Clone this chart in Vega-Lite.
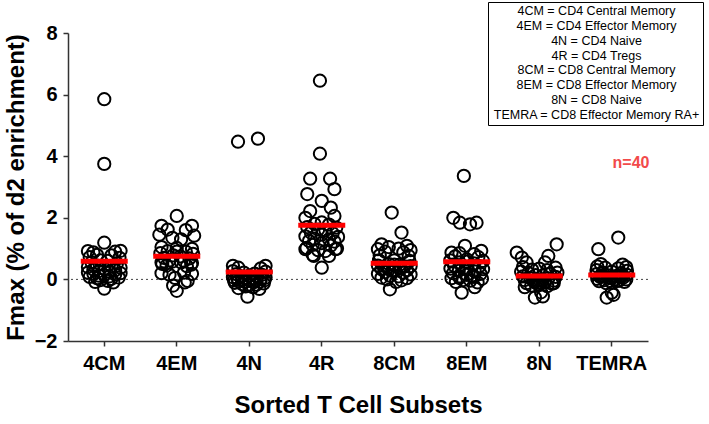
{
"$schema": "https://vega.github.io/schema/vega-lite/v6.json",
"width": 580, "height": 308,
"autosize": {"type": "none"},
"padding": {"left": 68, "top": 33, "right": 61, "bottom": 83},
"background": "white",
"config": {
  "view": {"stroke": null},
  "font": "Liberation Sans",
  "axis": {"domainColor": "#333", "domainWidth": 1.5, "tickColor": "#333", "tickWidth": 1.5, "tickSize": 5, "labelFont": "Liberation Sans", "labelFontWeight": "bold", "labelColor": "black", "titleFont": "Liberation Sans", "titleFontWeight": "bold", "titleColor": "black", "grid": false},
  "legend": {"strokeColor": "black", "padding": 3, "labelFont": "Liberation Sans", "labelFontSize": 12.5, "labelColor": "black", "symbolSize": 0, "symbolStrokeWidth": 0, "symbolOpacity": 0, "rowPadding": 1.8, "labelLimit": 400}
},
"data": {"values": [
{"s":"4CM","v":5.85,"j":0},{"s":"4CM","v":3.75,"j":0},{"s":"4CM","v":1.19,"j":0},
{"s":"4CM","v":0.92,"j":-0.45},{"s":"4CM","v":0.88,"j":-0.3},{"s":"4CM","v":0.9,"j":0.3},{"s":"4CM","v":0.93,"j":0.45},
{"s":"4CM","v":0.8,"j":-0.2},{"s":"4CM","v":0.78,"j":0.2},{"s":"4CM","v":0.72,"j":-0.4},{"s":"4CM","v":0.7,"j":0.42},
{"s":"4CM","v":0.62,"j":-0.1},{"s":"4CM","v":0.6,"j":0.1},{"s":"4CM","v":0.55,"j":-0.35},{"s":"4CM","v":0.52,"j":0.35},
{"s":"4CM","v":0.45,"j":-0.2},{"s":"4CM","v":0.43,"j":0.2},{"s":"4CM","v":0.4,"j":-0.45},{"s":"4CM","v":0.38,"j":0.45},
{"s":"4CM","v":0.35,"j":0},{"s":"4CM","v":0.32,"j":-0.3},{"s":"4CM","v":0.3,"j":0.3},
{"s":"4CM","v":0.27,"j":-0.15},{"s":"4CM","v":0.25,"j":0.15},{"s":"4CM","v":0.22,"j":-0.45},{"s":"4CM","v":0.2,"j":0.45},
{"s":"4CM","v":0.18,"j":-0.3},{"s":"4CM","v":0.16,"j":0.3},{"s":"4CM","v":0.14,"j":0},{"s":"4CM","v":0.12,"j":-0.15},{"s":"4CM","v":0.1,"j":0.15},
{"s":"4CM","v":0.08,"j":-0.4},{"s":"4CM","v":0.06,"j":0.4},{"s":"4CM","v":0.04,"j":-0.2},{"s":"4CM","v":0.02,"j":0.2},
{"s":"4CM","v":-0.02,"j":-0.1},{"s":"4CM","v":-0.05,"j":0.1},{"s":"4CM","v":-0.08,"j":-0.25},{"s":"4CM","v":-0.1,"j":0.25},
{"s":"4CM","v":-0.3,"j":0},
{"s":"4EM","v":2.06,"j":0},
{"s":"4EM","v":1.74,"j":-0.42},{"s":"4EM","v":1.74,"j":0.42},{"s":"4EM","v":1.62,"j":-0.25},{"s":"4EM","v":1.6,"j":0.25},
{"s":"4EM","v":1.45,"j":-0.48},{"s":"4EM","v":1.42,"j":0.48},{"s":"4EM","v":1.35,"j":-0.12},{"s":"4EM","v":1.3,"j":0.12},
{"s":"4EM","v":1.05,"j":-0.42},{"s":"4EM","v":1.02,"j":0},{"s":"4EM","v":0.99,"j":0.42},
{"s":"4EM","v":0.92,"j":-0.25},{"s":"4EM","v":0.9,"j":0.25},{"s":"4EM","v":0.85,"j":-0.45},{"s":"4EM","v":0.83,"j":0.45},
{"s":"4EM","v":0.78,"j":-0.1},{"s":"4EM","v":0.75,"j":0.1},{"s":"4EM","v":0.7,"j":-0.35},{"s":"4EM","v":0.68,"j":0.35},
{"s":"4EM","v":0.62,"j":-0.2},{"s":"4EM","v":0.6,"j":0.2},{"s":"4EM","v":0.55,"j":-0.42},{"s":"4EM","v":0.53,"j":0.42},
{"s":"4EM","v":0.9,"j":0},{"s":"4EM","v":0.45,"j":-0.28},{"s":"4EM","v":0.43,"j":0.28},
{"s":"4EM","v":0.58,"j":-0.12},{"s":"4EM","v":0.55,"j":0.12},{"s":"4EM","v":0.5,"j":-0.4},{"s":"4EM","v":0.48,"j":0.4},
{"s":"4EM","v":0.2,"j":-0.42},{"s":"4EM","v":0.18,"j":0.42},{"s":"4EM","v":0.15,"j":-0.2},{"s":"4EM","v":0.22,"j":0.2},
{"s":"4EM","v":0.05,"j":-0.05},{"s":"4EM","v":-0.05,"j":0.3},{"s":"4EM","v":-0.1,"j":0.22},{"s":"4EM","v":-0.2,"j":-0.1},
{"s":"4EM","v":-0.37,"j":0},
{"s":"4N","v":4.57,"j":0.24},{"s":"4N","v":4.47,"j":-0.31},
{"s":"4N","v":0.44,"j":-0.45},{"s":"4N","v":0.44,"j":0.45},{"s":"4N","v":0.38,"j":-0.3},{"s":"4N","v":0.36,"j":0.32},
{"s":"4N","v":0.27,"j":-0.45},{"s":"4N","v":0.25,"j":0.45},{"s":"4N","v":0.22,"j":-0.15},{"s":"4N","v":0.19,"j":0.15},
{"s":"4N","v":0.17,"j":-0.35},{"s":"4N","v":0.15,"j":0.35},{"s":"4N","v":0.12,"j":0},{"s":"4N","v":0.1,"j":-0.22},{"s":"4N","v":0.09,"j":0.22},
{"s":"4N","v":0.07,"j":-0.45},{"s":"4N","v":0.06,"j":0.45},{"s":"4N","v":0.05,"j":-0.1},{"s":"4N","v":0.04,"j":0.1},{"s":"4N","v":0.02,"j":-0.32},{"s":"4N","v":0.01,"j":0.32},
{"s":"4N","v":-0.01,"j":-0.2},{"s":"4N","v":-0.02,"j":0.2},{"s":"4N","v":-0.03,"j":-0.42},{"s":"4N","v":-0.03,"j":0.42},{"s":"4N","v":-0.04,"j":0},
{"s":"4N","v":-0.06,"j":-0.3},{"s":"4N","v":-0.07,"j":0.3},{"s":"4N","v":-0.08,"j":-0.12},{"s":"4N","v":-0.09,"j":0.12},
{"s":"4N","v":-0.11,"j":-0.4},{"s":"4N","v":-0.13,"j":0.4},{"s":"4N","v":-0.15,"j":-0.2},{"s":"4N","v":-0.17,"j":0.2},
{"s":"4N","v":-0.19,"j":0},{"s":"4N","v":-0.23,"j":-0.1},{"s":"4N","v":-0.25,"j":0.1},{"s":"4N","v":-0.28,"j":-0.3},{"s":"4N","v":-0.31,"j":0.28},
{"s":"4N","v":-0.56,"j":-0.05},
{"s":"4R","v":6.45,"j":-0.05},{"s":"4R","v":4.08,"j":-0.05},{"s":"4R","v":3.27,"j":-0.32},{"s":"4R","v":3.27,"j":0.23},
{"s":"4R","v":2.93,"j":0.35},{"s":"4R","v":2.77,"j":-0.4},{"s":"4R","v":2.55,"j":0},
{"s":"4R","v":2.33,"j":0.25},{"s":"4R","v":2.22,"j":-0.32},{"s":"4R","v":2.06,"j":0.35},{"s":"4R","v":2.0,"j":-0.45},
{"s":"4R","v":1.85,"j":0},{"s":"4R","v":1.8,"j":-0.2},{"s":"4R","v":1.78,"j":0.2},
{"s":"4R","v":1.7,"j":-0.4},{"s":"4R","v":1.68,"j":0.4},{"s":"4R","v":1.62,"j":-0.1},{"s":"4R","v":1.6,"j":0.1},
{"s":"4R","v":1.52,"j":-0.3},{"s":"4R","v":1.5,"j":0.3},{"s":"4R","v":1.45,"j":0},{"s":"4R","v":1.4,"j":-0.45},{"s":"4R","v":1.38,"j":0.45},
{"s":"4R","v":1.32,"j":-0.2},{"s":"4R","v":1.3,"j":0.2},{"s":"4R","v":1.25,"j":-0.35},{"s":"4R","v":1.23,"j":0.35},
{"s":"4R","v":1.18,"j":0},{"s":"4R","v":1.12,"j":-0.25},{"s":"4R","v":1.1,"j":0.25},
{"s":"4R","v":1.02,"j":-0.42},{"s":"4R","v":1.0,"j":0.42},{"s":"4R","v":0.95,"j":-0.1},{"s":"4R","v":0.92,"j":0.1},
{"s":"4R","v":0.98,"j":-0.45},{"s":"4R","v":0.98,"j":0.38},{"s":"4R","v":0.8,"j":-0.25},{"s":"4R","v":0.76,"j":-0.22},{"s":"4R","v":0.76,"j":0.2},
{"s":"4R","v":0.38,"j":0},
{"s":"8CM","v":2.17,"j":-0.07},{"s":"8CM","v":1.52,"j":0.2},
{"s":"8CM","v":1.14,"j":-0.35},{"s":"8CM","v":1.09,"j":0.35},{"s":"8CM","v":1.05,"j":-0.15},{"s":"8CM","v":1.0,"j":0.12},{"s":"8CM","v":0.98,"j":-0.45},{"s":"8CM","v":0.95,"j":0.45},
{"s":"8CM","v":0.9,"j":-0.25},{"s":"8CM","v":0.88,"j":0.25},{"s":"8CM","v":0.62,"j":0},{"s":"8CM","v":0.78,"j":-0.4},{"s":"8CM","v":0.76,"j":0.4},
{"s":"8CM","v":0.5,"j":-0.15},{"s":"8CM","v":0.48,"j":0.15},{"s":"8CM","v":0.62,"j":-0.42},{"s":"8CM","v":0.6,"j":0.42},
{"s":"8CM","v":0.35,"j":-0.28},{"s":"8CM","v":0.42,"j":0.28},{"s":"8CM","v":0.48,"j":0},{"s":"8CM","v":0.45,"j":-0.45},{"s":"8CM","v":0.43,"j":0.45},
{"s":"8CM","v":0.4,"j":-0.15},{"s":"8CM","v":0.38,"j":0.15},{"s":"8CM","v":0.33,"j":-0.35},{"s":"8CM","v":0.3,"j":0.35},
{"s":"8CM","v":0.27,"j":0},{"s":"8CM","v":0.24,"j":-0.25},{"s":"8CM","v":0.22,"j":0.25},{"s":"8CM","v":0.18,"j":-0.45},{"s":"8CM","v":0.16,"j":0.45},
{"s":"8CM","v":0.12,"j":-0.12},{"s":"8CM","v":0.1,"j":0.12},{"s":"8CM","v":0.06,"j":-0.35},{"s":"8CM","v":0.04,"j":0.35},
{"s":"8CM","v":0.0,"j":-0.2},{"s":"8CM","v":-0.03,"j":0.2},{"s":"8CM","v":-0.08,"j":0.05},{"s":"8CM","v":-0.32,"j":-0.12},
{"s":"8CM","v":0.28,"j":-0.05},
{"s":"8EM","v":3.36,"j":-0.08},{"s":"8EM","v":2.0,"j":-0.37},{"s":"8EM","v":1.84,"j":-0.19},{"s":"8EM","v":1.79,"j":0.09},{"s":"8EM","v":1.84,"j":0.27},
{"s":"8EM","v":1.09,"j":-0.05},{"s":"8EM","v":0.93,"j":0.4},{"s":"8EM","v":0.87,"j":-0.42},{"s":"8EM","v":0.85,"j":-0.2},{"s":"8EM","v":0.82,"j":0.2},
{"s":"8EM","v":0.75,"j":-0.32},{"s":"8EM","v":0.72,"j":0.32},{"s":"8EM","v":0.65,"j":0},{"s":"8EM","v":0.62,"j":-0.45},{"s":"8EM","v":0.6,"j":0.45},
{"s":"8EM","v":0.55,"j":-0.2},{"s":"8EM","v":0.52,"j":0.2},{"s":"8EM","v":0.45,"j":-0.35},{"s":"8EM","v":0.43,"j":0.35},
{"s":"8EM","v":0.58,"j":0},{"s":"8EM","v":0.35,"j":-0.45},{"s":"8EM","v":0.33,"j":0.45},{"s":"8EM","v":0.28,"j":-0.22},{"s":"8EM","v":0.26,"j":0.22},
{"s":"8EM","v":0.2,"j":-0.38},{"s":"8EM","v":0.18,"j":0.38},{"s":"8EM","v":0.32,"j":0},{"s":"8EM","v":0.1,"j":-0.2},{"s":"8EM","v":0.08,"j":0.2},
{"s":"8EM","v":0.04,"j":-0.42},{"s":"8EM","v":0.02,"j":0.42},{"s":"8EM","v":-0.02,"j":-0.1},{"s":"8EM","v":-0.04,"j":0.1},
{"s":"8EM","v":-0.08,"j":-0.3},{"s":"8EM","v":-0.1,"j":0.3},{"s":"8EM","v":0.15,"j":0},{"s":"8EM","v":0.1,"j":0.15},{"s":"8EM","v":0.05,"j":-0.2},{"s":"8EM","v":-0.25,"j":0.22},
{"s":"8EM","v":-0.43,"j":-0.14},
{"s":"8N","v":1.14,"j":0.48},{"s":"8N","v":0.87,"j":-0.62},{"s":"8N","v":0.76,"j":0.25},{"s":"8N","v":0.71,"j":-0.48},{"s":"8N","v":0.55,"j":-0.35},{"s":"8N","v":0.55,"j":0.16},
{"s":"8N","v":0.4,"j":-0.45},{"s":"8N","v":0.38,"j":0.45},{"s":"8N","v":0.35,"j":0},{"s":"8N","v":0.32,"j":-0.2},{"s":"8N","v":0.3,"j":0.22},
{"s":"8N","v":0.25,"j":-0.5},{"s":"8N","v":0.22,"j":0.5},{"s":"8N","v":0.2,"j":-0.3},{"s":"8N","v":0.18,"j":0.3},
{"s":"8N","v":0.14,"j":-0.1},{"s":"8N","v":0.12,"j":0.1},{"s":"8N","v":0.1,"j":-0.45},{"s":"8N","v":0.08,"j":0.45},
{"s":"8N","v":0.05,"j":-0.25},{"s":"8N","v":0.03,"j":0.25},{"s":"8N","v":0.0,"j":0},{"s":"8N","v":-0.02,"j":-0.4},{"s":"8N","v":-0.04,"j":0.4},
{"s":"8N","v":-0.07,"j":-0.15},{"s":"8N","v":-0.09,"j":0.15},{"s":"8N","v":-0.12,"j":-0.35},{"s":"8N","v":-0.14,"j":0.35},
{"s":"8N","v":-0.17,"j":0},{"s":"8N","v":-0.2,"j":-0.22},{"s":"8N","v":-0.22,"j":0.22},
{"s":"8N","v":-0.25,"j":-0.4},{"s":"8N","v":-0.12,"j":0.4},{"s":"8N","v":0.0,"j":-0.1},{"s":"8N","v":-0.02,"j":0.1},
{"s":"8N","v":-0.1,"j":0},{"s":"8N","v":-0.15,"j":-0.05},{"s":"8N","v":-0.42,"j":0.05},{"s":"8N","v":-0.59,"j":-0.12},{"s":"8N","v":-0.55,"j":0.1},
{"s":"TEMRA","v":1.36,"j":0.18},{"s":"TEMRA","v":0.98,"j":-0.37},
{"s":"TEMRA","v":0.5,"j":-0.3},{"s":"TEMRA","v":0.48,"j":0.3},{"s":"TEMRA","v":0.42,"j":-0.4},{"s":"TEMRA","v":0.4,"j":0.4},{"s":"TEMRA","v":0.38,"j":-0.18},{"s":"TEMRA","v":0.36,"j":0.18},
{"s":"TEMRA","v":0.3,"j":-0.42},{"s":"TEMRA","v":0.28,"j":0.42},{"s":"TEMRA","v":0.25,"j":0},{"s":"TEMRA","v":0.22,"j":-0.25},{"s":"TEMRA","v":0.2,"j":0.25},
{"s":"TEMRA","v":0.17,"j":-0.42},{"s":"TEMRA","v":0.15,"j":0.42},{"s":"TEMRA","v":0.13,"j":-0.1},{"s":"TEMRA","v":0.11,"j":0.1},
{"s":"TEMRA","v":0.08,"j":-0.32},{"s":"TEMRA","v":0.06,"j":0.32},{"s":"TEMRA","v":0.04,"j":0},{"s":"TEMRA","v":0.02,"j":-0.4},{"s":"TEMRA","v":0.0,"j":0.4},
{"s":"TEMRA","v":-0.02,"j":-0.2},{"s":"TEMRA","v":-0.04,"j":0.2},{"s":"TEMRA","v":-0.06,"j":-0.35},{"s":"TEMRA","v":-0.08,"j":0.35},
{"s":"TEMRA","v":-0.1,"j":0},{"s":"TEMRA","v":-0.12,"j":-0.15},{"s":"TEMRA","v":-0.05,"j":0.15},
{"s":"TEMRA","v":0.1,"j":-0.25},{"s":"TEMRA","v":0.1,"j":0.25},{"s":"TEMRA","v":0.05,"j":-0.05},{"s":"TEMRA","v":0.0,"j":0.1},{"s":"TEMRA","v":-0.43,"j":0},{"s":"TEMRA","v":-0.59,"j":-0.14},{"s":"TEMRA","v":-0.5,"j":0.05},
{"s":"TEMRA","v":0.1,"j":-0.22},{"s":"TEMRA","v":0.09,"j":0.22},{"s":"TEMRA","v":0.14,"j":0.3},{"s":"TEMRA","v":0.12,"j":-0.3}
]},
"layer": [
  {
    "data": {"values": [{}]},
    "mark": {"type": "rule", "strokeDash": [2, 3], "color": "#444", "strokeWidth": 1},
    "encoding": {"y": {"datum": 0, "type": "quantitative"}}
  },
  {
    "mark": {"type": "point", "filled": false, "size": 150, "strokeWidth": 2, "opacity": 1},
    "encoding": {
      "x": {"field": "s", "type": "nominal", "sort": ["4CM","4EM","4N","4R","8CM","8EM","8N","TEMRA"],
            "scale": {"paddingInner": 0, "paddingOuter": 0},
            "axis": {"title": "Sorted T Cell Subsets", "labelAngle": 0, "labelFontSize": 20, "titleFontSize": 24, "labelPadding": 7, "titlePadding": 20}},
      "xOffset": {"field": "j", "type": "quantitative", "scale": {"domain": [-1, 1], "range": [0, 72.5]}},
      "y": {"field": "v", "type": "quantitative", "scale": {"domain": [-2, 8], "nice": false, "zero": false},
            "axis": {"title": "Fmax (% of d2 enrichment)", "values": [-2, 0, 2, 4, 6, 8], "labelFontSize": 20, "titleFontSize": 24, "labelPadding": 6, "titlePadding": 6}},
      "color": {"field": "s", "type": "nominal", "sort": ["4CM","4EM","4N","4R","8CM","8EM","8N","TEMRA"],
                "scale": {"range": ["black","black","black","black","black","black","black","black"]},
                "legend": {"title": null, "orient": "none", "legendX": 420, "legendY": -31,
                           "fillColor": "white", "labelAlign": "center", "labelOffset": 93,
                           "labelExpr": "{'4CM':'4CM = CD4 Central Memory','4EM':'4EM = CD4 Effector Memory','4N':'4N = CD4  Naive','4R':'4R = CD4 Tregs','8CM':'8CM = CD8 Central Memory','8EM':'8EM = CD8 Effector Memory','8N':'8N = CD8 Naive','TEMRA':'TEMRA = CD8 Effector Memory RA+'}[datum.label]"}}
    }
  },
  {
    "mark": {"type": "tick", "color": "#ff0000", "size": 47, "thickness": 5, "opacity": 1},
    "encoding": {
      "x": {"field": "s", "type": "nominal", "sort": ["4CM","4EM","4N","4R","8CM","8EM","8N","TEMRA"]},
      "y": {"aggregate": "mean", "field": "v", "type": "quantitative"}
    }
  },
  {
    "data": {"values": [{}]},
    "mark": {"type": "text", "text": "n=40", "color": "#f24a4a", "fontSize": 16, "fontWeight": "bold", "align": "center", "baseline": "middle"},
    "encoding": {
      "x": {"datum": "TEMRA", "type": "nominal"},
      "xOffset": {"datum": 0.53, "type": "quantitative"},
      "y": {"datum": 3.77, "type": "quantitative"}
    }
  }
]
}
